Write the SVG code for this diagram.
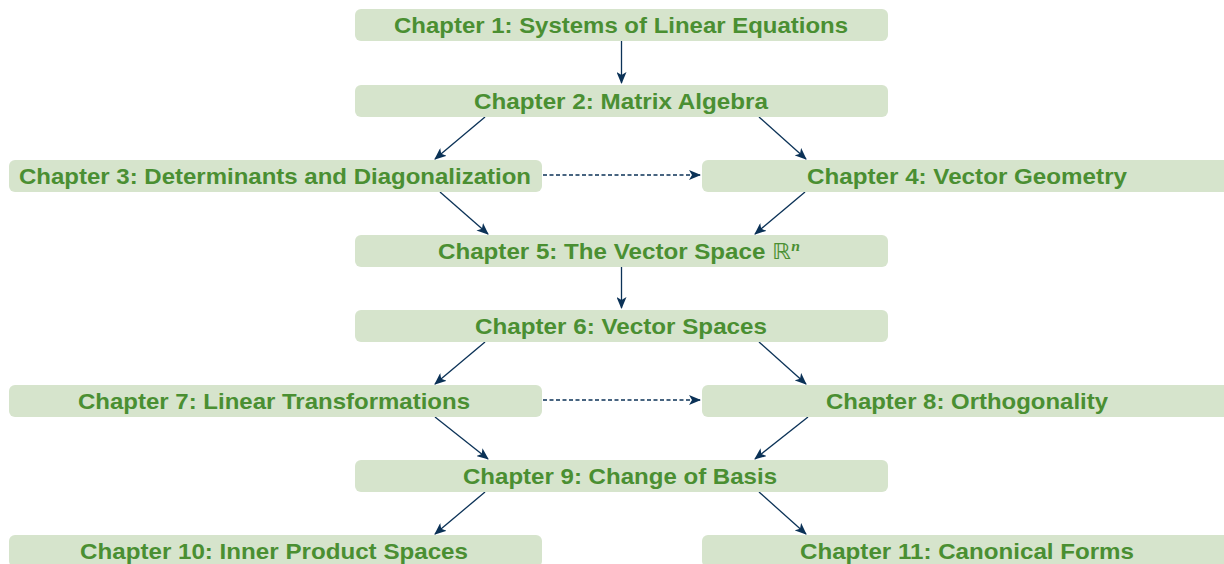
<svg xmlns="http://www.w3.org/2000/svg" width="1224" height="564" viewBox="0 0 1224 564">
<style>
.box{fill:#d6e4cc;}
.t{font-family:"Liberation Sans",Arial,sans-serif;font-weight:bold;font-size:21.5px;fill:#4a8f32;text-anchor:middle;}
.e{stroke:#0b3257;stroke-width:1.3;fill:none;marker-end:url(#ah);}
.d{stroke-dasharray:4 2.5;}
</style>
<defs>
<marker id="ah" viewBox="0 0 12 10" refX="11" refY="5" markerWidth="12" markerHeight="10" markerUnits="userSpaceOnUse" orient="auto">
<path d="M0,0 L12,5 L0,10 L3,5 Z" fill="#0b3257"/>
</marker>
</defs>
<rect width="1224" height="564" fill="#ffffff"/>
<g id="connectors">
<line class="e" x1="621.5" y1="41" x2="621.5" y2="83"/>
<line class="e" x1="485" y1="117" x2="435" y2="159"/>
<line class="e" x1="759" y1="117" x2="806" y2="159"/>
<line class="e d" x1="543" y1="175" x2="700" y2="175"/>
<line class="e" x1="440" y1="192" x2="488" y2="234"/>
<line class="e" x1="805" y1="192" x2="755" y2="234"/>
<line class="e" x1="621.5" y1="267" x2="621.5" y2="308"/>
<line class="e" x1="485" y1="342" x2="435" y2="384"/>
<line class="e" x1="759" y1="342" x2="806" y2="384"/>
<line class="e d" x1="543" y1="400" x2="700" y2="400"/>
<line class="e" x1="435" y1="417" x2="488" y2="459"/>
<line class="e" x1="808" y1="417" x2="755" y2="459"/>
<line class="e" x1="485" y1="492" x2="435" y2="534"/>
<line class="e" x1="759" y1="492" x2="806" y2="534"/>
</g>
<g id="ch1"><rect class="box" x="355" y="9" width="533" height="32" rx="6"/><text class="t" x="621" y="32.5" textLength="454" lengthAdjust="spacingAndGlyphs">Chapter 1: Systems of Linear Equations</text></g>
<g id="ch2"><rect class="box" x="355" y="85" width="533" height="32" rx="6"/><text class="t" x="621" y="108.5" textLength="294" lengthAdjust="spacingAndGlyphs">Chapter 2: Matrix Algebra</text></g>
<g id="ch3"><rect class="box" x="9" y="160" width="533" height="32" rx="6"/><text class="t" x="275" y="183.5" textLength="512" lengthAdjust="spacingAndGlyphs">Chapter 3: Determinants and Diagonalization</text></g>
<g id="ch4"><rect class="box" x="702" y="160" width="533" height="32" rx="6"/><text class="t" x="967" y="183.5" textLength="320" lengthAdjust="spacingAndGlyphs">Chapter 4: Vector Geometry</text></g>
<g id="ch5"><rect class="box" x="355" y="235" width="533" height="32" rx="6"/><text class="t" x="619" y="258.5" textLength="362" lengthAdjust="spacingAndGlyphs">Chapter 5: The Vector Space <tspan font-family="DejaVu Sans" font-weight="normal">ℝ</tspan><tspan font-family="Liberation Serif" font-style="italic" font-size="14" dy="-8">n</tspan></text></g>
<g id="ch6"><rect class="box" x="355" y="310" width="533" height="32" rx="6"/><text class="t" x="621" y="333.5" textLength="292" lengthAdjust="spacingAndGlyphs">Chapter 6: Vector Spaces</text></g>
<g id="ch7"><rect class="box" x="9" y="385" width="533" height="32" rx="6"/><text class="t" x="274" y="408.5" textLength="392" lengthAdjust="spacingAndGlyphs">Chapter 7: Linear Transformations</text></g>
<g id="ch8"><rect class="box" x="702" y="385" width="533" height="32" rx="6"/><text class="t" x="967" y="408.5" textLength="282" lengthAdjust="spacingAndGlyphs">Chapter 8: Orthogonality</text></g>
<g id="ch9"><rect class="box" x="355" y="460" width="533" height="32" rx="6"/><text class="t" x="620" y="483.5" textLength="314" lengthAdjust="spacingAndGlyphs">Chapter 9: Change of Basis</text></g>
<g id="ch10"><rect class="box" x="9" y="535" width="533" height="32" rx="6"/><text class="t" x="274" y="558.5" textLength="388" lengthAdjust="spacingAndGlyphs">Chapter 10: Inner Product Spaces</text></g>
<g id="ch11"><rect class="box" x="702" y="535" width="533" height="32" rx="6"/><text class="t" x="967" y="558.5" textLength="334" lengthAdjust="spacingAndGlyphs">Chapter 11: Canonical Forms</text></g>
</svg>
